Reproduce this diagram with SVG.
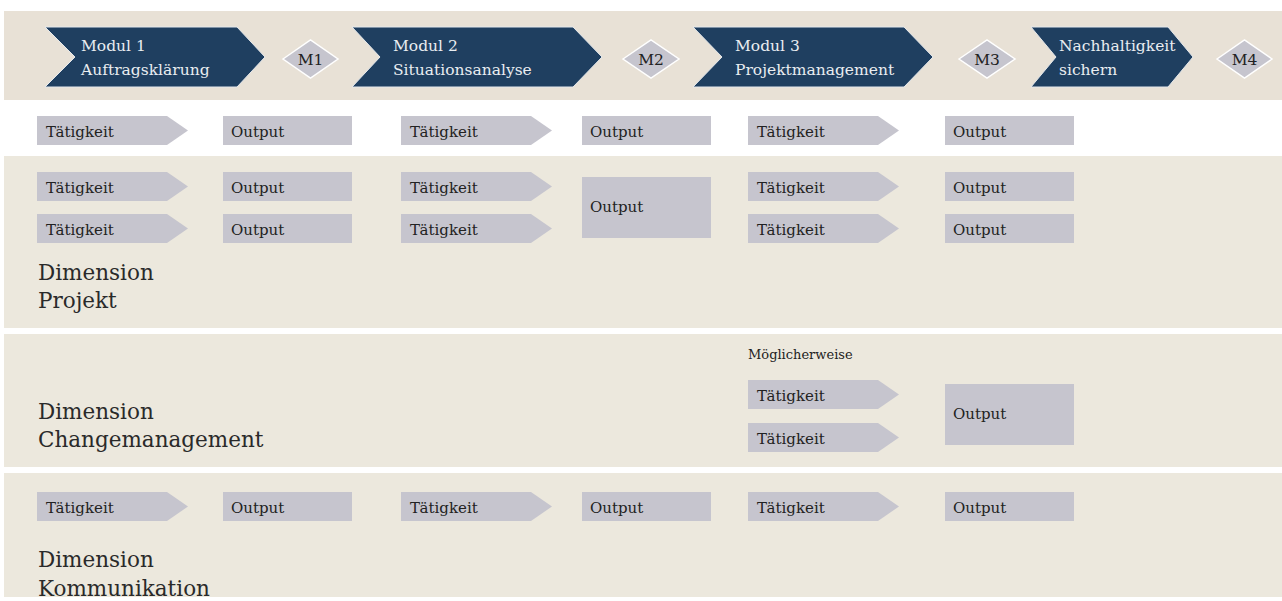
<svg xmlns="http://www.w3.org/2000/svg" xmlns:xlink="http://www.w3.org/1999/xlink" width="1282" height="601" viewBox="0 0 1282 601">
  <style>
    text { font-family: "DejaVu Serif", "Liberation Serif", serif; }
    .band-head { fill: #e8e1d6; }
    .band { fill: #ece8dd; }
    .module { fill: #1f3f60; stroke: #e4e8ec; stroke-width: 1; }
    .module-label { fill: #e9edf1; font-size: 15.5px; }
    .milestone { fill: #c6c5ce; stroke: #ffffff; stroke-width: 1.5; }
    .milestone-label { fill: #222222; font-size: 15.5px; text-anchor: middle; }
    .box { fill: #c6c5ce; }
    .label { fill: #222222; font-size: 15px; }
    .note { fill: #222222; font-size: 13px; }
    .dim { fill: #2a2a2a; font-size: 21.5px; }
  </style>
  <defs>
    <!-- activity arrow shape, 151 x 29 -->
    <path id="activity" d="M0,0 H130 L151,14.5 L130,29 H0 Z"/>
  </defs>

  <rect width="1282" height="601" fill="#ffffff"/>

  <!-- background bands -->
  <g id="bands">
    <rect class="band-head" x="4" y="11" width="1278" height="89"/>
    <rect class="band" x="4" y="156" width="1278" height="172"/>
    <rect class="band" x="4" y="334" width="1278" height="133"/>
    <rect class="band" x="4" y="473" width="1278" height="124"/>
  </g>

  <!-- module chevrons -->
  <g id="modul-1">
    <path class="module" d="M45,27 H237 L265,57 L237,87 H45 L75,57 Z"/>
    <text class="module-label" x="81" y="51">Modul 1</text>
    <text class="module-label" x="81" y="75">Auftragsklärung</text>
  </g>
  <g id="m1">
    <path class="milestone" d="M283,59 L310.5,40 L338,59 L310.5,78 Z"/>
    <text class="milestone-label" x="310.5" y="64.5">M1</text>
  </g>
  <g id="modul-2">
    <path class="module" d="M352,27 H573 L602,57 L573,87 H352 L380,57 Z"/>
    <text class="module-label" x="393" y="51">Modul 2</text>
    <text class="module-label" x="393" y="75">Situationsanalyse</text>
  </g>
  <g id="m2">
    <path class="milestone" d="M623,59 L651,40 L679,59 L651,78 Z"/>
    <text class="milestone-label" x="651" y="64.5">M2</text>
  </g>
  <g id="modul-3">
    <path class="module" d="M693,27 H904 L933,57 L904,87 H693 L722,57 Z"/>
    <text class="module-label" x="735" y="51">Modul 3</text>
    <text class="module-label" x="735" y="75">Projektmanagement</text>
  </g>
  <g id="m3">
    <path class="milestone" d="M959,59 L987,40 L1015,59 L987,78 Z"/>
    <text class="milestone-label" x="987" y="64.5">M3</text>
  </g>
  <g id="modul-4">
    <path class="module" d="M1031,27 H1168 L1193,57 L1168,87 H1031 L1056,57 Z"/>
    <text class="module-label" x="1059" y="51">Nachhaltigkeit</text>
    <text class="module-label" x="1059" y="75">sichern</text>
  </g>
  <g id="m4">
    <path class="milestone" d="M1217,59 L1244.5,40 L1272,59 L1244.5,78 Z"/>
    <text class="milestone-label" x="1244.5" y="64.5">M4</text>
  </g>

  <!-- general row -->
  <g id="row-allgemein">
    <g id="a1-t"><use xlink:href="#activity" class="box" x="37" y="116"/><text class="label" x="46" y="137">Tätigkeit</text></g>
    <g id="a1-o"><rect class="box" x="223" y="116" width="129" height="29"/><text class="label" x="231" y="137">Output</text></g>
    <g id="a2-t"><use xlink:href="#activity" class="box" x="401" y="116"/><text class="label" x="410" y="137">Tätigkeit</text></g>
    <g id="a2-o"><rect class="box" x="582" y="116" width="129" height="29"/><text class="label" x="590" y="137">Output</text></g>
    <g id="a3-t"><use xlink:href="#activity" class="box" x="748" y="116"/><text class="label" x="757" y="137">Tätigkeit</text></g>
    <g id="a3-o"><rect class="box" x="945" y="116" width="129" height="29"/><text class="label" x="953" y="137">Output</text></g>
  </g>

  <!-- Dimension Projekt -->
  <g id="dimension-projekt">
    <g id="p1-t1"><use xlink:href="#activity" class="box" x="37" y="172"/><text class="label" x="46" y="193">Tätigkeit</text></g>
    <g id="p1-o1"><rect class="box" x="223" y="172" width="129" height="29"/><text class="label" x="231" y="193">Output</text></g>
    <g id="p1-t2"><use xlink:href="#activity" class="box" x="37" y="214"/><text class="label" x="46" y="235">Tätigkeit</text></g>
    <g id="p1-o2"><rect class="box" x="223" y="214" width="129" height="29"/><text class="label" x="231" y="235">Output</text></g>
    <g id="p2-t1"><use xlink:href="#activity" class="box" x="401" y="172"/><text class="label" x="410" y="193">Tätigkeit</text></g>
    <g id="p2-t2"><use xlink:href="#activity" class="box" x="401" y="214"/><text class="label" x="410" y="235">Tätigkeit</text></g>
    <g id="p2-o"><rect class="box" x="582" y="177" width="129" height="61"/><text class="label" x="590" y="212">Output</text></g>
    <g id="p3-t1"><use xlink:href="#activity" class="box" x="748" y="172"/><text class="label" x="757" y="193">Tätigkeit</text></g>
    <g id="p3-o1"><rect class="box" x="945" y="172" width="129" height="29"/><text class="label" x="953" y="193">Output</text></g>
    <g id="p3-t2"><use xlink:href="#activity" class="box" x="748" y="214"/><text class="label" x="757" y="235">Tätigkeit</text></g>
    <g id="p3-o2"><rect class="box" x="945" y="214" width="129" height="29"/><text class="label" x="953" y="235">Output</text></g>
    <text class="dim" x="38" y="280">Dimension</text>
    <text class="dim" x="38" y="308">Projekt</text>
  </g>

  <!-- Dimension Changemanagement -->
  <g id="dimension-change">
    <text class="note" x="748" y="359">Möglicherweise</text>
    <g id="c3-t1"><use xlink:href="#activity" class="box" x="748" y="380"/><text class="label" x="757" y="401">Tätigkeit</text></g>
    <g id="c3-t2"><use xlink:href="#activity" class="box" x="748" y="423"/><text class="label" x="757" y="444">Tätigkeit</text></g>
    <g id="c3-o"><rect class="box" x="945" y="384" width="129" height="61"/><text class="label" x="953" y="419">Output</text></g>
    <text class="dim" x="38" y="419">Dimension</text>
    <text class="dim" x="38" y="447">Changemanagement</text>
  </g>

  <!-- Dimension Kommunikation -->
  <g id="dimension-kommunikation">
    <g id="k1-t"><use xlink:href="#activity" class="box" x="37" y="492"/><text class="label" x="46" y="513">Tätigkeit</text></g>
    <g id="k1-o"><rect class="box" x="223" y="492" width="129" height="29"/><text class="label" x="231" y="513">Output</text></g>
    <g id="k2-t"><use xlink:href="#activity" class="box" x="401" y="492"/><text class="label" x="410" y="513">Tätigkeit</text></g>
    <g id="k2-o"><rect class="box" x="582" y="492" width="129" height="29"/><text class="label" x="590" y="513">Output</text></g>
    <g id="k3-t"><use xlink:href="#activity" class="box" x="748" y="492"/><text class="label" x="757" y="513">Tätigkeit</text></g>
    <g id="k3-o"><rect class="box" x="945" y="492" width="129" height="29"/><text class="label" x="953" y="513">Output</text></g>
    <text class="dim" x="38" y="567">Dimension</text>
    <text class="dim" x="38" y="596">Kommunikation</text>
  </g>

  <g id="connectors"/>
</svg>
